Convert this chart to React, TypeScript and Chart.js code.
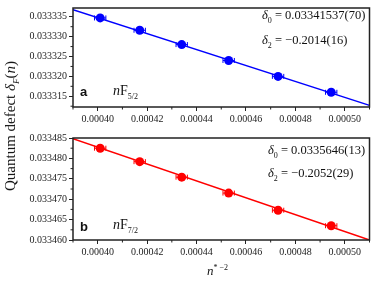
import React, { useEffect, useRef } from "react";
import { Chart, registerables } from "chart.js";

Chart.register(...registerables);

// n*^-2 values
const xValues = [0.000401, 0.000417, 0.000434, 0.000453, 0.000473, 0.0004945];
const xErr = [0.0000023, 0.0000023, 0.0000023, 0.0000023, 0.0000023, 0.0000023];
// panel a: nF5/2
const defectF52 = [0.0333347, 0.0333316, 0.033328, 0.033324, 0.03332, 0.033316];
const fitF52X = [0.00039, 0.00051];
const fitF52Y = [0.0333368, 0.0333127];
// panel b: nF7/2
const defectF72 = [0.0334825, 0.0334792, 0.0334754, 0.0334715, 0.0334673, 0.0334635];
const fitF72X = [0.00039, 0.00051];
const fitF72Y = [0.0334848, 0.03346];

// tick labels
const xTickValues = [0.0004, 0.00042, 0.00044, 0.00046, 0.00048, 0.0005];
const yTickValuesA = [0.033315, 0.03332, 0.033325, 0.03333, 0.033335];
const yTickValuesB = [0.03346, 0.033465, 0.03347, 0.033475, 0.03348, 0.033485];
const xRange = { min: 0.00039, max: 0.00051, step: 0.00002 };
const yRangeA = { min: 0.0333123, max: 0.0333372, step: 0.000005 };
const yRangeB = { min: 0.03346, max: 0.033485, step: 0.000005 };

const SERIF = "'Liberation Serif', 'Times New Roman', serif";

const framePlugin = {
  id: "frameMinor",
  afterDraw(chart: any) {
    const { ctx, chartArea } = chart;
    const xs = chart.scales.x;
    const ys = chart.scales.y;
    ctx.save();
    ctx.strokeStyle = "#222";
    ctx.lineWidth = 1;
    const drawMinor = (scale: any, horizontal: boolean, step: number) => {
      const ticks = scale.ticks.map((t: any) => t.value);
      const seen = new Set<string>();
      ticks.forEach((v: number) => {
        [v - step / 2, v + step / 2].forEach((m) => {
          const key = m.toFixed(10);
          if (seen.has(key)) return;
          seen.add(key);
          if (m < scale.min || m > scale.max) return;
          const p = scale.getPixelForValue(m);
          ctx.beginPath();
          if (horizontal) {
            ctx.moveTo(p, chartArea.bottom);
            ctx.lineTo(p, chartArea.bottom + 2.5);
          } else {
            ctx.moveTo(chartArea.left, p);
            ctx.lineTo(chartArea.left - 2.5, p);
          }
          ctx.stroke();
        });
      });
    };
    drawMinor(xs, true, chart.options.minorX);
    drawMinor(ys, false, chart.options.minorY);
    ctx.lineWidth = 1.5;
    ctx.strokeRect(chartArea.left, chartArea.top, chartArea.right - chartArea.left, chartArea.bottom - chartArea.top);
    ctx.restore();
  },
};

const errorBarPlugin = {
  id: "errorBars",
  afterDatasetsDraw(chart: any) {
    const { ctx } = chart;
    const xs = chart.scales.x;
    const ys = chart.scales.y;
    const ds = chart.data.datasets[1];
    ctx.save();
    ctx.strokeStyle = ds.borderColor;
    ctx.lineWidth = 1;
    ds.data.forEach((pt: any, i: number) => {
      const e = xErr[i];
      const x1 = xs.getPixelForValue(pt.x - e);
      const x2 = xs.getPixelForValue(pt.x + e);
      const y = ys.getPixelForValue(pt.y);
      ctx.beginPath();
      ctx.moveTo(x1, y);
      ctx.lineTo(x2, y);
      ctx.moveTo(x1, y - 2.5);
      ctx.lineTo(x1, y + 2.5);
      ctx.moveTo(x2, y - 2.5);
      ctx.lineTo(x2, y + 2.5);
      ctx.stroke();
    });
    ctx.restore();
  },
};

function makeConfig(
  yVals: number[],
  fitX: number[],
  fitY: number[],
  color: string,
  yr: { min: number; max: number; step: number },
  yTickVals: number[],
  padTop: number,
  xAxisHeight: number
): any {
  return {
    type: "scatter",
    data: {
      datasets: [
        {
          data: fitX.map((x, i) => ({ x, y: fitY[i] })),
          showLine: true,
          borderColor: color,
          borderWidth: 1.5,
          pointRadius: 0,
          order: 2,
        },
        {
          data: xValues.map((x, i) => ({ x, y: yVals[i] })),
          showLine: false,
          borderColor: color,
          backgroundColor: color,
          pointRadius: 4.5,
          pointBorderWidth: 0,
          order: 1,
        },
      ],
    },
    options: {
      responsive: false,
      animation: false,
      events: [],
      minorX: xRange.step,
      minorY: yr.step,
      layout: { padding: { top: padTop, right: 2, left: 0, bottom: 0 } },
      plugins: { legend: { display: false }, tooltip: { enabled: false } },
      scales: {
        x: {
          type: "linear",
          min: xRange.min,
          max: xRange.max,
          afterBuildTicks: (s: any) => {
            s.ticks = xTickValues.map((v) => ({ value: v }));
          },
          afterFit: (s: any) => {
            s.height = xAxisHeight;
          },
          grid: { drawOnChartArea: false, tickLength: 4, color: "#222", lineWidth: 1 },
          border: { display: false },
          ticks: {
            maxRotation: 0,
            autoSkip: false,
            padding: 2,
            color: "#222",
            font: { family: SERIF, size: 10 },
            callback: (v: any) => Number(v).toFixed(5),
          },
        },
        y: {
          type: "linear",
          min: yr.min,
          max: yr.max,
          afterBuildTicks: (s: any) => {
            s.ticks = yTickVals.map((v) => ({ value: v }));
          },
          afterFit: (s: any) => {
            s.width = 73;
          },
          grid: { drawOnChartArea: false, tickLength: 4, color: "#222", lineWidth: 1 },
          border: { display: false },
          ticks: {
            autoSkip: false,
            padding: 2,
            color: "#222",
            font: { family: SERIF, size: 10 },
            callback: (v: any) => Number(v).toFixed(6),
          },
        },
      },
    },
    plugins: [framePlugin, errorBarPlugin],
  };
}

function Panel(props: { config: any; top: number; height: number }) {
  const ref = useRef<HTMLCanvasElement>(null);
  useEffect(() => {
    const chart = new Chart(ref.current as HTMLCanvasElement, props.config);
    return () => chart.destroy();
  }, []);
  return (
    <canvas
      ref={ref}
      width={374}
      height={props.height}
      style={{ position: "absolute", left: 0, top: props.top, width: 374, height: props.height }}
    />
  );
}

const txt: React.CSSProperties = {
  position: "absolute",
  fontFamily: SERIF,
  color: "#111",
  whiteSpace: "nowrap",
  lineHeight: 1,
};

export default function App() {
  const cfgA = makeConfig(defectF52, fitF52X, fitF52Y, "#0000ff", yRangeA, yTickValuesA, 2, 23);
  const cfgB = makeConfig(defectF72, fitF72X, fitF72Y, "#ff0000", yRangeB, yTickValuesB, 5, 42);
  return (
    <div style={{ position: "fixed", left: 0, top: 0, width: 374, height: 282, background: "#fff", overflow: "hidden" }}>
      <Panel config={cfgA} top={0} height={130} />
      <Panel config={cfgB} top={130} height={152} />

      {/* panel a annotations */}
      <div style={{ ...txt, left: 262, top: 8.5, fontSize: 12.5 }}>
        <i>δ</i><sub style={{ fontSize: 8 }}>0</sub> = 0.03341537(70)
      </div>
      <div style={{ ...txt, left: 262, top: 34, fontSize: 12.5 }}>
        <i>δ</i><sub style={{ fontSize: 8 }}>2</sub> = −0.2014(16)
      </div>
      <div style={{ ...txt, left: 80, top: 85, fontSize: 13, fontFamily: "'Liberation Sans', Arial, sans-serif", fontWeight: "bold" }}>a</div>
      <div style={{ ...txt, left: 113, top: 84, fontSize: 14 }}>
        <i>n</i>F<sub style={{ fontSize: 8 }}>5/2</sub>
      </div>

      {/* panel b annotations */}
      <div style={{ ...txt, left: 268, top: 143.5, fontSize: 12.5 }}>
        <i>δ</i><sub style={{ fontSize: 8 }}>0</sub> = 0.0335646(13)
      </div>
      <div style={{ ...txt, left: 268, top: 167, fontSize: 12.5 }}>
        <i>δ</i><sub style={{ fontSize: 8 }}>2</sub> = −0.2052(29)
      </div>
      <div style={{ ...txt, left: 80, top: 220, fontSize: 13, fontFamily: "'Liberation Sans', Arial, sans-serif", fontWeight: "bold" }}>b</div>
      <div style={{ ...txt, left: 113, top: 218, fontSize: 14 }}>
        <i>n</i>F<sub style={{ fontSize: 8 }}>7/2</sub>
      </div>

      {/* axis titles */}
      <div
        style={{
          ...txt,
          fontSize: 15,
          left: 12,
          top: 126,
          transform: "translate(-50%, -50%) rotate(-90deg)",
        }}
      >
        Quantum defect <i>δ</i><sub style={{ fontSize: 9 }}><i>F</i></sub>(<i>n</i>)
      </div>
      <div style={{ ...txt, left: 207, top: 264, fontSize: 13 }}>
        <i>n</i><sup style={{ fontSize: 8 }}>* −2</sup>
      </div>
    </div>
  );
}
